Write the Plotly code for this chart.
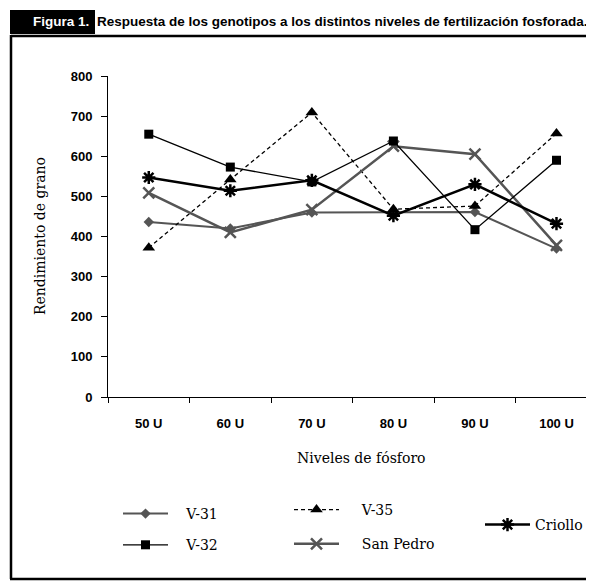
import plotly.graph_objects as go

# ---- data ----
niveles = ["50 U", "60 U", "70 U", "80 U", "90 U", "100 U"]
v31 = [436, 420, 460, 460, 461, 370]
v32 = [655, 573, 536, 638, 417, 590]
v35 = [372, 542, 709, 468, 476, 657]
san_pedro = [509, 410, 467, 625, 605, 378]
criollo = [547, 514, 540, 452, 530, 432]

# page body has an 8px margin: positions below are written in screen pixels
OFF = 8
W, H = 594 - OFF, 582 - OFF
ML, MT = 108 - OFF, 76 - OFF
PLOT_BOTTOM = 397 - OFF
MR = 0
MB = H - PLOT_BOTTOM
PW, PH = W - ML - MR, PLOT_BOTTOM - MT

def px(x):
    return (x - OFF - ML) / PW

def py(y):
    return (PLOT_BOTTOM - (y - OFF)) / PH

fig = go.Figure()

fig.add_trace(go.Scatter(
    x=niveles, y=v31, name="\u00a0\u00a0\u00a0V-31", mode="lines+markers",
    line=dict(color="#555555", width=2),
    marker=dict(symbol="diamond", size=8, color="#555555"),
    legend="legend", legendgroup="a", cliponaxis=False))
fig.add_trace(go.Scatter(
    x=niveles, y=v35, name="\u00a0\u00a0\u00a0\u00a0V-35", mode="lines+markers",
    line=dict(color="black", width=1.3, dash="4px,3px"),
    marker=dict(symbol="triangle-up", size=11, color="black"),
    legend="legend2", legendgroup="c", cliponaxis=False))
fig.add_trace(go.Scatter(
    x=niveles, y=san_pedro, name="\u00a0\u00a0\u00a0\u00a0San Pedro", mode="lines+markers",
    line=dict(color="#555555", width=2.5),
    marker=dict(symbol="x-thin-open", size=11, color="#555555",
                line=dict(color="#555555", width=2.5)),
    legend="legend2", legendgroup="d", cliponaxis=False))
fig.add_trace(go.Scatter(
    x=niveles, y=v32, name="\u00a0\u00a0\u00a0V-32", mode="lines+markers",
    line=dict(color="black", width=1.3),
    marker=dict(symbol="square", size=9, color="black"),
    legend="legend", legendgroup="b", cliponaxis=False))
fig.add_trace(go.Scatter(
    x=niveles, y=criollo, name="Criollo", mode="lines+markers",
    line=dict(color="black", width=2.5),
    marker=dict(symbol="asterisk-open", size=11, color="black",
                line=dict(color="black", width=2.5)),
    legend="legend3", legendgroup="e", cliponaxis=False))

tickfont = dict(family="Liberation Sans, Arial", size=13, color="black", weight="bold")
legfont = dict(family="DejaVu Serif", size=14, color="black")

fig.update_xaxes(
    type="category", range=[-0.5, 5.46], showline=True, linecolor="black",
    linewidth=1, ticks="outside", ticklen=5, tickcolor="black",
    tickson="boundaries", showgrid=False, zeroline=False,
    tickfont=tickfont, ticklabelstandoff=14)
fig.update_yaxes(
    range=[0, 800], dtick=100, showline=True, linecolor="black", linewidth=1,
    ticks="outside", ticklen=6, tickcolor="black", showgrid=False,
    zeroline=False, tickfont=tickfont, ticklabelstandoff=6)

def leg(line_start_x, first_item_y, gap=10):
    xf = line_start_x - OFF - 5
    yf = first_item_y - OFF - 14
    return dict(x=xf / W, y=1 - yf / H, xref="container", yref="container",
                xanchor="left", yanchor="top", font=legfont,
                bgcolor="rgba(0,0,0,0)", borderwidth=0, tracegroupgap=gap,
                itemwidth=45)

fig.update_layout(
    width=W, height=H,
    margin=dict(l=ML, r=MR, t=MT, b=MB, autoexpand=False),
    paper_bgcolor="white", plot_bgcolor="white",
    showlegend=True,
    legend=leg(123, 512),
    legend2=leg(294, 508, 13),
    legend3=leg(485, 523),
)

# frame and header
shapes = [
    dict(type="rect", xref="paper", yref="paper", x0=px(10), x1=px(95),
         y0=py(10), y1=py(34), fillcolor="black", line=dict(width=0), layer="above"),
    dict(type="line", xref="paper", yref="paper", x0=px(11), x1=px(600),
         y0=py(36), y1=py(36), line=dict(color="black", width=2.5)),
    dict(type="line", xref="paper", yref="paper", x0=px(11), x1=px(11),
         y0=py(35), y1=py(579), line=dict(color="black", width=2.5)),
    dict(type="line", xref="paper", yref="paper", x0=px(10), x1=px(600),
         y0=py(579), y1=py(579), line=dict(color="black", width=2.5)),
]
fig.update_layout(shapes=shapes)

hdr_font = dict(family="Liberation Sans, Arial", size=13.5, weight="bold")
annotations = [
    dict(text="Figura 1.", xref="paper", yref="paper", x=px(91), y=py(22),
         xanchor="right", yanchor="middle", showarrow=False,
         font=dict(hdr_font, color="white")),
    dict(text="Respuesta de los genotipos a los distintos niveles de fertilización fosforada.",
         xref="paper", yref="paper", x=px(95), y=py(22),
         xanchor="left", yanchor="middle", showarrow=False,
         font=dict(hdr_font, color="black")),
    dict(text="Rendimiento de grano", xref="paper", yref="paper", x=px(40), y=py(236),
         xanchor="center", yanchor="middle", textangle=-90, showarrow=False,
         font=dict(family="DejaVu Serif", size=14, color="black")),
    dict(text="Niveles de fósforo", xref="paper", yref="paper", x=px(361), y=py(458),
         xanchor="center", yanchor="middle", showarrow=False,
         font=dict(family="DejaVu Serif", size=14, color="black")),
]
fig.update_layout(annotations=annotations)

fig.write_html("out.html")
